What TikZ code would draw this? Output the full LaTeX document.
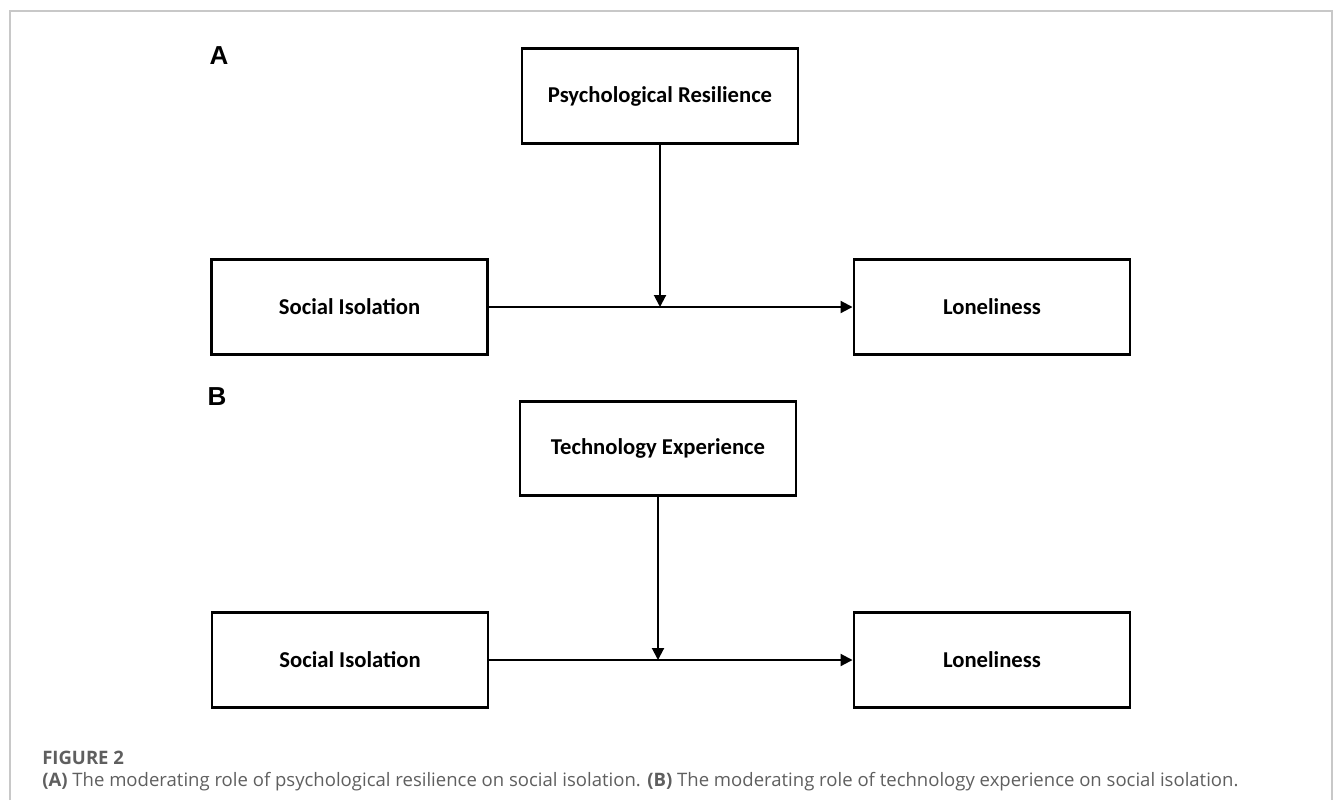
\documentclass[tikz,border=0pt]{standalone}
\usepackage{fontspec}
\setmainfont{Carlito}
\newfontfamily\panelfont{Liberation Sans}
\newfontfamily\captionfont{Open Sans}
\usepackage{tikz}
\usetikzlibrary{arrows.meta,positioning,calc}
\usepackage{xcolor}
\definecolor{framegray}{RGB}{200,200,200}
\definecolor{captiongray}{RGB}{95,95,95}

\begin{document}
\begin{tikzpicture}[
    x=0.75pt, y=-0.75pt,
    var/.style={draw, line width=2.2pt, minimum width=207pt,
                minimum height=71pt, font=\fontsize{17}{20}\selectfont\bfseries,
                inner sep=0pt, fill=white},
    panel/.style={font=\panelfont\fontsize{19.5}{22}\selectfont\bfseries, inner sep=0pt},
    capline/.style={font=\captionfont\fontsize{13.9}{16}\selectfont, text=captiongray,
                    anchor=base west, inner sep=0pt},
    arr/.style={-{Triangle[length=9pt, width=9pt]}, line width=1.5pt, draw=black}
]
\useasboundingbox (0,0) rectangle (1333,800);
\draw[framegray, line width=0.8pt] (10,800) -- (10,11) -- (1332,11) -- (1332,800);

% panel A
\node[panel] (labA) at (219,56) {A};
\node[var] (psyres) at (660,96) {Psychological Resilience};
\node[var] (isoA) at (349.5,307) {Social Isolation};
\node[var] (lonA) at (992,307) {Loneliness};
\draw[arr] (isoA) -- (lonA);
\draw[arr] (psyres.south) -- (psyres.south |- isoA.center);

% panel B
\node[panel] (labB) at (217,397) {B};
\node[var] (techexp) at (658,448.5) {Technology Experience};
\node[var] (isoB) at (350,660) {Social Isolation};
\node[var] (lonB) at (992,660) {Loneliness};
\draw[arr] (isoB) -- (lonB);
\draw[arr] (techexp.south) -- (techexp.south |- isoB.center);

% caption
\node[capline, font=\captionfont\bfseries\fontsize{13.9}{16}\selectfont] (figno) at (42,764) {FIGURE 2};
\node[capline] (captext) at (42,786)
    {\textbf{(A)} The moderating role of psychological resilience on social isolation. \textbf{(B)} The moderating role of technology experience on social isolation.};
\end{tikzpicture}
\end{document}
